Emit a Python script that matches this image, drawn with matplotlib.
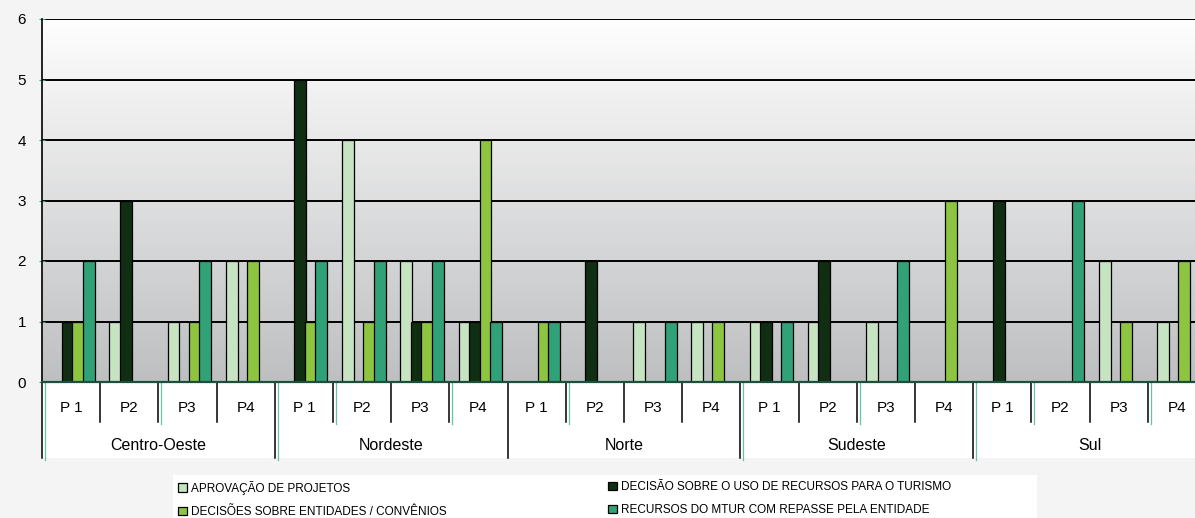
import numpy as np
import matplotlib
matplotlib.use("Agg")
import matplotlib.pyplot as plt
from matplotlib.patches import Patch, Rectangle
from matplotlib.lines import Line2D

plt.rcParams['font.family'] = ['Liberation Sans', 'DejaVu Sans']

# data
regioes = ["Centro-Oeste", "Nordeste", "Norte", "Sudeste", "Sul"]
periodos = ["P 1", "P2", "P3", "P4"]
series = ["APROVAÇÃO DE PROJETOS",
          "DECISÃO SOBRE O USO DE RECURSOS PARA O TURISMO",
          "DECISÕES SOBRE ENTIDADES / CONVÊNIOS",
          "RECURSOS DO MTUR COM REPASSE PELA ENTIDADE"]
aprovacao = [0, 1, 1, 2,  0, 4, 2, 1,  0, 0, 1, 1,  1, 1, 1, 0,  0, 0, 2, 1]
decisao_uso = [1, 3, 0, 0,  5, 0, 1, 1,  0, 2, 0, 0,  1, 2, 0, 0,  3, 0, 0, 0]
decisoes_ent = [1, 0, 1, 2,  1, 1, 1, 4,  1, 0, 0, 1,  0, 0, 0, 3,  0, 0, 1, 2]
recursos = [2, 0, 2, 0,  2, 2, 2, 1,  1, 0, 1, 0,  1, 0, 2, 0,  0, 3, 0, 0]
cores = ["#c6e3c2", "#0f2e12", "#8dc540", "#31a277"]
teal_ticks = [0, 2, 4, 5, 7, 9, 12, 14, 16, 17, 19]

valores = [aprovacao, decisao_uso, decisoes_ent, recursos]
n = len(aprovacao)
x = np.arange(n)

W, H = 1195, 518
fig = plt.figure(figsize=(W / 100, H / 100), dpi=100, facecolor="#f4f4f4")
ax = fig.add_axes([42 / W, 136 / H, 1164 / W, 363 / H])

# white zones under the axis and behind legend
fig.patches.append(Rectangle((42 / W, 60 / H), 1 - 42 / W, 76 / H,
                             transform=fig.transFigure, facecolor="white",
                             edgecolor="none", zorder=-2))
fig.patches.append(Rectangle((173 / W, 0), (1037 - 173) / W, 43 / H,
                             transform=fig.transFigure, facecolor="white",
                             edgecolor="none", zorder=-2))

ax.set_xlim(-0.5, n - 0.5)
ax.set_ylim(0, 6)

# gradient background
grad = np.linspace(0, 1, 256).reshape(-1, 1)
c_top = np.array([0xfe, 0xfe, 0xfe]) / 255
c_bot = np.array([0xbe, 0xbf, 0xc1]) / 255
img = c_bot[None, None, :] * (1 - grad[:, :, None]) + c_top[None, None, :] * grad[:, :, None]
ax.imshow(img, extent=[-0.5, n - 0.5, 0, 6], origin="lower", aspect="auto", zorder=0)

for yv in range(1, 7):
    ax.axhline(yv, color="black", lw=1.4, zorder=1)

passo = 0.18
larg = 0.205
for k, (vals, cor) in enumerate(zip(valores, cores)):
    ax.bar(x + (k - 1.5) * passo + 0.03, vals, width=larg, color=cor,
           edgecolor="black", linewidth=0.9, zorder=2 + k)

for s in ["top", "right", "bottom"]:
    ax.spines[s].set_visible(False)
ax.spines["left"].set_linewidth(1.2)
ax.axhline(0, color="#1d4f3c", lw=1.6, zorder=10, clip_on=False)

ax.set_yticks(range(0, 7))
ax.tick_params(axis="y", direction="inout", length=5, color="#3aa07a",
               labelsize=11, pad=9)
ax.set_xticks([])

# two-level category axis
tr = ax.get_xaxis_transform()
for i in range(n):
    ax.text(i, -0.072, periodos[i % 4], transform=tr, ha="center", va="center",
            fontsize=11)
for i in range(n + 1):
    bottom = -0.209 if i % 4 == 0 else -0.11
    ax.add_line(Line2D([i - 0.5, i - 0.5], [0, bottom], transform=tr,
                       color="black", lw=1.1, clip_on=False))
for i in teal_ticks:
    bottom = -0.215 if i % 4 == 0 else -0.115
    ax.add_line(Line2D([i - 0.45, i - 0.45], [0, bottom], transform=tr,
                       color="#66c2a0", lw=0.9, clip_on=False))
for j, reg in enumerate(regioes):
    ax.text(j * 4 + 1.5, -0.176, reg, transform=tr, ha="center", va="center",
            fontsize=11.5)

handles = [Patch(facecolor=c, edgecolor="black", linewidth=0.9) for c in cores]
leg_kw = dict(frameon=False, fontsize=8.5, handlelength=0.75, handleheight=0.75,
              handletextpad=0.35, labelspacing=0.95, borderaxespad=0, borderpad=0)
fig.legend([handles[0], handles[2]], [series[0], series[2]], loc="upper left",
           bbox_to_anchor=(178 / W, 1 - 481 / H), **leg_kw)
fig.legend([handles[1], handles[3]], [series[1], series[3]], loc="upper left",
           bbox_to_anchor=(608 / W, 1 - 481 / H), **leg_kw)

fig.savefig("out.png", dpi=100, facecolor=fig.get_facecolor())
